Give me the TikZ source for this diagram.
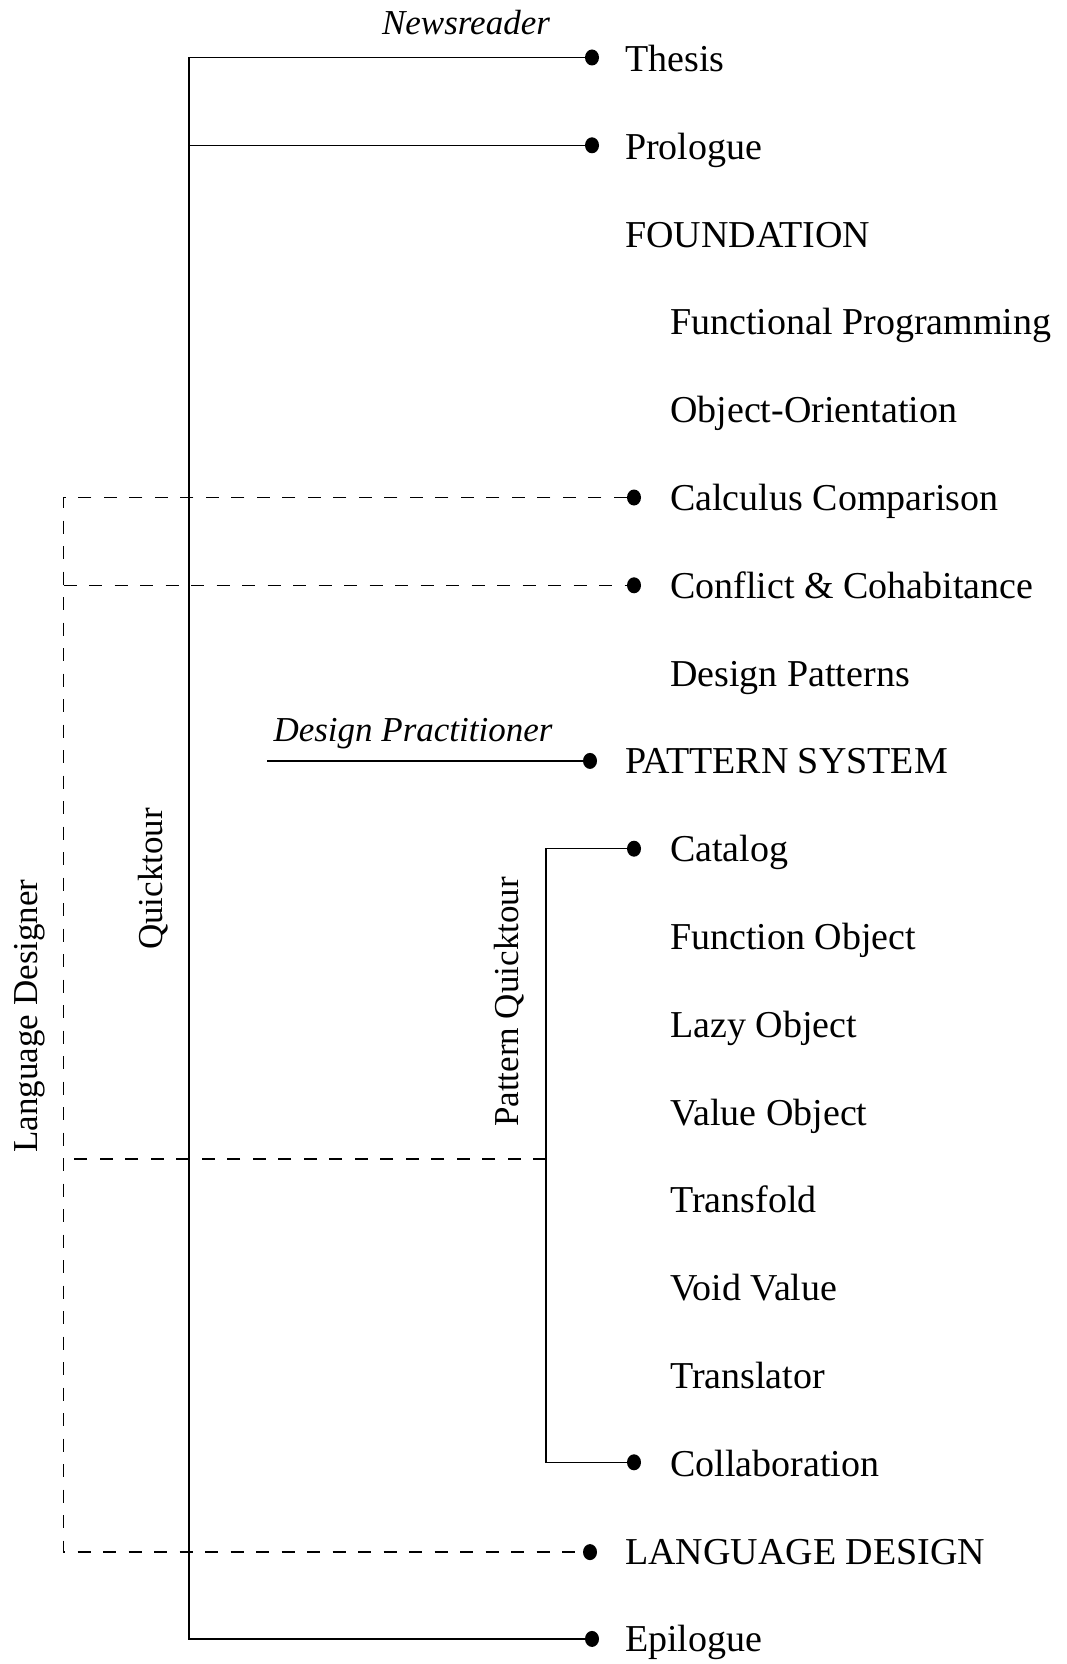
\documentclass[tikz,border=0pt]{standalone}
\usepackage{fontspec}
\setmainfont{Liberation Serif}
\tikzset{
  conn/.style={line width=1.4pt},
  dconn/.style={line width=1.4pt, dash pattern=on 13pt off 12.5pt},
  dotnode/.style={ellipse, fill, inner sep=0pt, minimum width=14pt, minimum height=16pt},
  lbl/.style={anchor=base west, font=\fontsize{38}{40}\selectfont, inner sep=0pt},
  role/.style={anchor=base, font=\fontsize{35}{38}\selectfont\itshape, inner sep=0pt},
  vlabel/.style={font=\fontsize{35}{38}\selectfont, rotate=90, inner sep=0pt},
}
\usetikzlibrary{shapes.geometric}
\begin{document}
\begin{tikzpicture}[x=1pt,y=-1pt]
\useasboundingbox (0,0) rectangle (1067,1664);
% entries
\node[lbl] (thesis) at (625,71.5) {Thesis};
\node[lbl] (prologue) at (625,159.3) {Prologue};
\node[lbl] (foundation) at (625,247.1) {FOUNDATION};
\node[lbl] (fp) at (670,334.9) {Functional Programming};
\node[lbl] (oo) at (670,422.7) {Object-Orientation};
\node[lbl] (calc) at (670,510.5) {Calculus Comparison};
\node[lbl] (conflict) at (670,598.3) {Conflict \& Cohabitance};
\node[lbl] (dp) at (670,686.1) {Design Patterns};
\node[lbl] (ps) at (625,773.9) {PATTERN SYSTEM};
\node[lbl] (catalog) at (670,861.7) {Catalog};
\node[lbl] (fo) at (670,949.5) {Function Object};
\node[lbl] (lazy) at (670,1037.3) {Lazy Object};
\node[lbl] (value) at (670,1125.1) {Value Object};
\node[lbl] (transfold) at (670,1212.9) {Transfold};
\node[lbl] (void) at (670,1300.7) {Void Value};
\node[lbl] (translator) at (670,1388.5) {Translator};
\node[lbl] (collab) at (670,1476.3) {Collaboration};
\node[lbl] (langdesign) at (625,1564.1) {LANGUAGE DESIGN};
\node[lbl] (epilogue) at (625,1651.9) {Epilogue};
% dots
\node[dotnode] (dthesis) at (592,57.5) {};
\node[dotnode] (dprologue) at (592,145.3) {};
\node[dotnode] (dcalc) at (634,497.5) {};
\node[dotnode] (dconflict) at (634,585.3) {};
\node[dotnode] (dps) at (590,760.9) {};
\node[dotnode] (dcatalog) at (634,848.7) {};
\node[dotnode] (dcollab) at (634,1462.3) {};
\node[dotnode] (dlang) at (590,1552.1) {};
\node[dotnode] (depilogue) at (592,1638.9) {};
% corner coordinates
\coordinate (qtop) at (189,57.5);
\coordinate (qmid) at (189,145.3);
\coordinate (qbot) at (189,1638.9);
\coordinate (ltop) at (63.5,497.5);
\coordinate (lconf) at (63.5,585.3);
\coordinate (lpq) at (63.5,1159);
\coordinate (lbot) at (63.5,1552.1);
\coordinate (ptop) at (546,848.7);
\coordinate (pmid) at (546,1159);
\coordinate (pbot) at (546,1462.3);
\coordinate (dpstart) at (267,760.9);
% Quicktour
\draw[conn] (dthesis) -- (qtop) -- (qbot) -- (depilogue);
\draw[conn] (qmid) -- (dprologue);
% Pattern Quicktour
\draw[conn] (dcatalog) -- (ptop) -- (pbot) -- (dcollab);
% Design Practitioner
\draw[conn] (dpstart) -- (dps);
% Language Designer
\draw[dconn] (dcalc) -- (ltop) -- (lbot) -- (dlang);
\draw[dconn] (lconf) -- (dconflict);
\draw[dconn] (pmid) -- (lpq);
% labels
\node[role] (newsreader) at (466,35) {Newsreader};
\node[role] (designprac) at (413,741) {Design Practitioner};
\node[vlabel] (quicktour) at (153,879) {Quicktour};
\node[vlabel] (langdesigner) at (30,1016) {Language Designer};
\node[vlabel] (patternqt) at (509,1002) {Pattern Quicktour};
\end{tikzpicture}
\end{document}
